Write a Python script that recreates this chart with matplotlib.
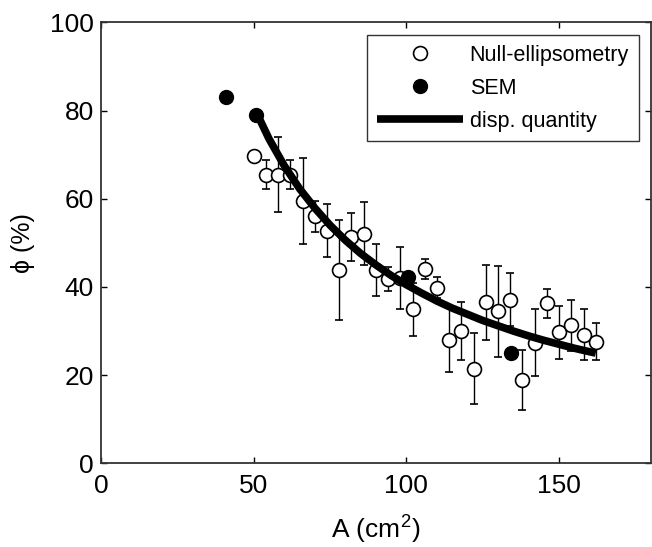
import matplotlib

matplotlib.use("Agg")

import matplotlib.pyplot as plt
from matplotlib.lines import Line2D

plt.rcParams["font.family"] = ["Liberation Sans", "DejaVu Sans"]
plt.rcParams["mathtext.fontset"] = "custom"
plt.rcParams["mathtext.rm"] = "Liberation Sans"

# null-ellipsometry measurements (area in cm^2, coverage in %)
null_area = [50, 54, 58, 62, 66, 70, 74, 78, 82, 86, 90, 94, 98, 102, 106,
             110, 114, 118, 122, 126, 130, 134, 138, 142, 146, 150, 154, 158, 162]
null_phi = [69.8, 65.5, 65.5, 65.5, 59.5, 56.0, 52.8, 43.8, 51.3, 52.1, 43.8,
            41.8, 42.0, 34.9, 44.0, 39.8, 28.0, 30.1, 21.5, 36.5, 34.5, 37.1,
            18.9, 27.4, 36.3, 29.7, 31.3, 29.2, 27.6]
null_err = [0.0, 3.3, 8.4, 3.3, 9.8, 3.6, 6.0, 11.4, 5.4, 7.2, 5.9, 2.8, 7.0,
            6.0, 2.3, 2.4, 7.2, 6.6, 8.0, 8.5, 10.3, 6.0, 6.8, 7.6, 3.3, 6.0,
            5.8, 5.8, 4.2]

# SEM estimates
sem_area = [41.0, 50.7, 100.6, 134.1]
sem_phi = [83.0, 78.9, 42.2, 25.0]

# dispensed-quantity curve
disp_area = [51, 55, 60, 65, 70, 75, 80, 85, 90, 95, 100, 105, 110, 115, 120,
             125, 130, 135, 140, 145, 150, 155, 160, 162]
disp_phi = [79.4, 73.6, 67.5, 62.3, 57.9, 54.0, 50.6, 47.6, 45.0, 42.6, 40.5,
            38.6, 36.8, 35.2, 33.8, 32.4, 31.2, 30.0, 28.9, 27.9, 27.0, 26.1,
            25.3, 25.0]

fig = plt.figure(figsize=(6.52, 5.47), dpi=100)
ax = fig.add_axes([0.155, 0.153, 0.843, 0.806])

ax.errorbar(null_area, null_phi, yerr=null_err, fmt="o", color="black",
            mfc="white", mec="black", mew=1.2, ms=10, ecolor="black",
            elinewidth=1.0, capsize=3, capthick=1.0, zorder=2)
sem_line, = ax.plot(sem_area, sem_phi, "o", color="black", ms=10, zorder=3)
disp_line, = ax.plot(disp_area, disp_phi, "-", color="black", lw=5.5,
                     solid_capstyle="butt", zorder=4)
null_proxy = Line2D([], [], ls="none", marker="o", ms=10, mfc="white",
                    mec="black", mew=1.2)

ax.set_xlim(0, 180)
ax.set_ylim(0, 100)
ax.set_xticks([0, 50, 100, 150])
ax.set_yticks([0, 20, 40, 60, 80, 100])
ax.tick_params(direction="in", length=4, width=1, top=True, right=True,
               labelsize=19, colors="black")
ax.tick_params(axis="x", pad=8)
ax.tick_params(axis="y", pad=5)
for sp in ax.spines.values():
    sp.set_linewidth(1.3)
    sp.set_color("#333333")

ax.set_xlabel("A (cm$^2$)", fontsize=19, labelpad=10)
ax.set_ylabel("ϕ (%)", fontsize=18, labelpad=11)

leg = ax.legend([null_proxy, sem_line, disp_line],
                ["Null-ellipsometry", "SEM", "disp. quantity"],
                loc="upper right", bbox_to_anchor=(0.978, 0.971), fontsize=15.5,
                frameon=True, fancybox=False, edgecolor="black",
                handlelength=4.0, handletextpad=0.3, labelspacing=0.55,
                borderpad=0.45, borderaxespad=0)
leg.get_frame().set_linewidth(1.0)

fig.savefig("out.png", dpi=100)
plt.close(fig)
